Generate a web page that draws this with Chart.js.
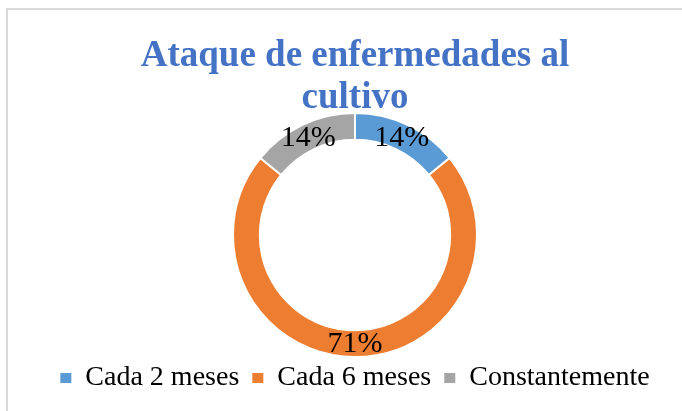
<!DOCTYPE html>
<html>
<head>
<meta charset="utf-8">
<script src="https://cdn.jsdelivr.net/npm/chart.js@4"></script>
<style>
  html, body { margin: 0; padding: 0; background: #fff; }
  #wrap { position: relative; width: 682px; height: 411px; }
  #frame {
    position: absolute; left: 6px; top: 8px; right: -10px; bottom: -10px;
    border-top: 2px solid #d9d9d9; border-left: 2px solid #d9d9d9;
  }
  canvas { position: absolute; left: 0; top: 0; }
</style>
</head>
<body>
<div id="wrap">
  <div id="frame"></div>
  <canvas id="chart" width="682" height="411"></canvas>
</div>
<script>
// datos del gráfico
const categories = ['Cada 2 meses', 'Cada 6 meses', 'Constantemente'];
const percentages = [14, 71, 14];
const sliceColors = ['#5B9BD5', '#ED7D31', '#A5A5A5'];
const chartTitle = ['Ataque de enfermedades al', 'cultivo'];

const serif = '"Liberation Serif", "Times New Roman", serif';

// etiquetas de porcentaje sobre cada segmento
const sliceLabels = {
    id: 'sliceLabels',
    afterDatasetsDraw(chart) {
        const ctx = chart.ctx;
        const meta = chart.getDatasetMeta(0);
        ctx.save();
        ctx.font = '30px ' + serif;
        ctx.fillStyle = '#000';
        ctx.textAlign = 'center';
        ctx.textBaseline = 'middle';
        meta.data.forEach((arc, i) => {
            const pos = arc.tooltipPosition();
            ctx.fillText(percentages[i] + '%', pos.x, pos.y + 1);
        });
        ctx.restore();
    }
};

const ctx = document.getElementById('chart').getContext('2d');
new Chart(ctx, {
    type: 'doughnut',
    data: {
        labels: categories,
        datasets: [{
            data: percentages,
            backgroundColor: sliceColors,
            borderColor: '#ffffff',
            borderWidth: 2
        }]
    },
    options: {
        responsive: false,
        animation: false,
        cutout: '78%',
        layout: { padding: { left: 28, right: 0, top: 0, bottom: 9 } },
        plugins: {
            title: {
                display: true,
                text: chartTitle,
                color: '#4472C4',
                font: { family: serif, size: 37, weight: 'bold', lineHeight: 1.135 },
                padding: { top: 35, bottom: -7 }
            },
            legend: {
                position: 'bottom',
                labels: {
                    color: '#000',
                    boxWidth: 11,
                    boxHeight: 10,
                    padding: 6,
                    font: { family: serif, size: 28 },
                    generateLabels(chart) {
                        const items = Chart.overrides.doughnut.plugins.legend.labels.generateLabels(chart);
                        // espacio extra entre elementos de la leyenda
                        items.forEach((it, i) => {
                            it.lineWidth = 0;
                            if (i < items.length - 1) it.text = it.text + ' ';
                        });
                        return items;
                    }
                }
            },
            tooltip: { enabled: false }
        }
    },
    plugins: [sliceLabels]
});
</script>
</body>
</html>
